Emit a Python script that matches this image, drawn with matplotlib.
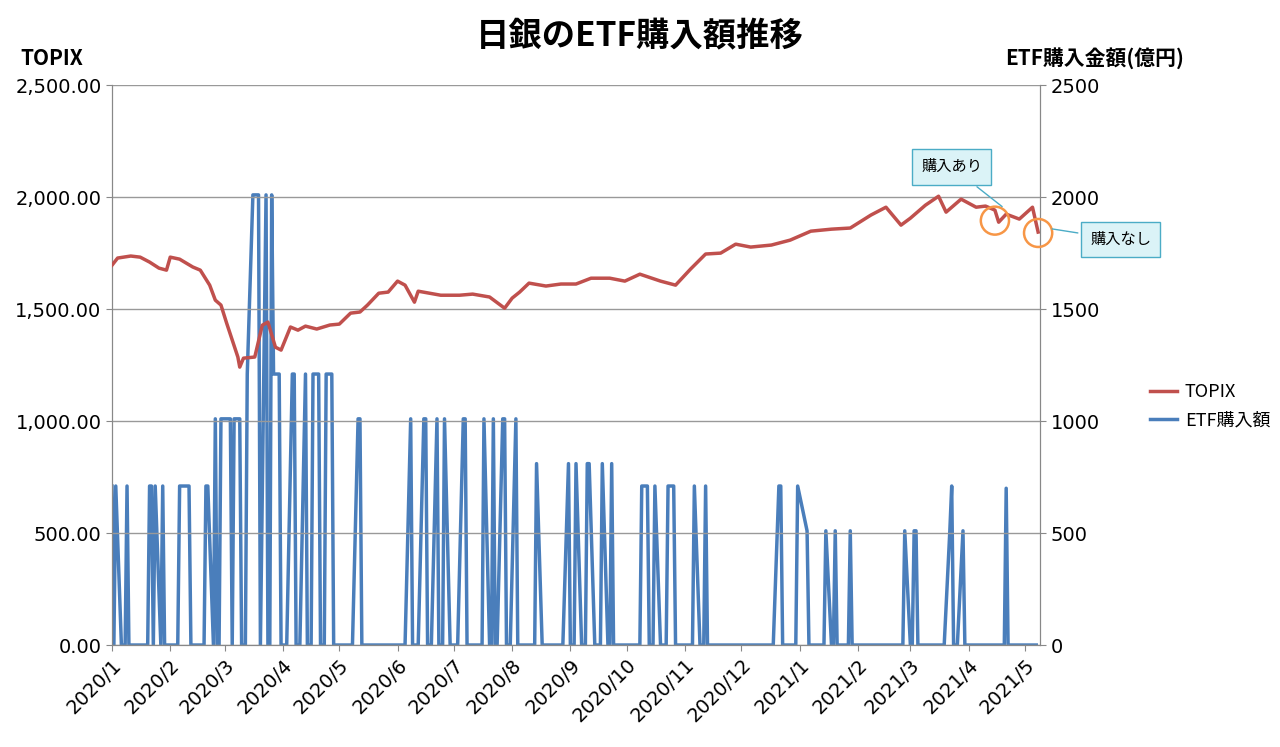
import numpy as np
import pandas as pd
import matplotlib
matplotlib.use("Agg")
import matplotlib.pyplot as plt
import matplotlib.dates as mdates
from matplotlib.patches import Ellipse
from matplotlib.lines import Line2D

plt.rcParams["font.family"] = ["Noto Sans CJK JP", "DejaVu Sans"]

# TOPIX
topix_dates = [
    "2020-01-01", "2020-01-04", "2020-01-11", "2020-01-16", "2020-01-21", "2020-01-26",
    "2020-01-30", "2020-02-01", "2020-02-06", "2020-02-13", "2020-02-17", "2020-02-22",
    "2020-02-25", "2020-02-28", "2020-03-02", "2020-03-05", "2020-03-08", "2020-03-09",
    "2020-03-11", "2020-03-17", "2020-03-21", "2020-03-24", "2020-03-28", "2020-03-31",
    "2020-04-05", "2020-04-09", "2020-04-13", "2020-04-19", "2020-04-26", "2020-05-01",
    "2020-05-07", "2020-05-12", "2020-05-16", "2020-05-22", "2020-05-27", "2020-06-01",
    "2020-06-05", "2020-06-10", "2020-06-12", "2020-06-24", "2020-07-04", "2020-07-11",
    "2020-07-20", "2020-07-28", "2020-08-01", "2020-08-05", "2020-08-10", "2020-08-19",
    "2020-08-27", "2020-09-04", "2020-09-12", "2020-09-22", "2020-09-30", "2020-10-08",
    "2020-10-19", "2020-10-27", "2020-11-04", "2020-11-12", "2020-11-20", "2020-11-28",
    "2020-12-06", "2020-12-17", "2020-12-27", "2021-01-07", "2021-01-18", "2021-01-28",
    "2021-02-08", "2021-02-16", "2021-02-24", "2021-03-01", "2021-03-09", "2021-03-16",
    "2021-03-20", "2021-03-28", "2021-04-05", "2021-04-10", "2021-04-15", "2021-04-17",
    "2021-04-21", "2021-04-28", "2021-05-05", "2021-05-08",
]
topix_values = [
    1696, 1728, 1737, 1732, 1710, 1683,
    1674, 1732, 1723, 1688, 1674, 1607,
    1540, 1518, 1438, 1362, 1286, 1241,
    1281, 1286, 1428, 1442, 1330, 1317,
    1420, 1406, 1424, 1411, 1429, 1433,
    1482, 1487, 1518, 1571, 1576, 1625,
    1607, 1531, 1580, 1562, 1562, 1567,
    1554, 1504, 1549, 1576, 1616, 1603,
    1612, 1612, 1638, 1638, 1625, 1656,
    1625, 1607, 1679, 1746, 1750, 1790,
    1777, 1786, 1808, 1848, 1857, 1862,
    1920, 1955, 1875, 1906, 1964, 2004,
    1933, 1991, 1955, 1960, 1942, 1888,
    1924, 1902, 1955, 1844,
]

# ETF purchases (億円) on purchase days; every other trading day is 0
etf_days = [
    "2020-01-01", "2020-01-03", "2020-01-09", "2020-01-21", "2020-01-22", "2020-01-24",
    "2020-01-28", "2020-02-06", "2020-02-07", "2020-02-10", "2020-02-11", "2020-02-20",
    "2020-02-21", "2020-02-25", "2020-02-28", "2020-03-02", "2020-03-03", "2020-03-04",
    "2020-03-06", "2020-03-09", "2020-03-13", "2020-03-16", "2020-03-17", "2020-03-18",
    "2020-03-19", "2020-03-23", "2020-03-26", "2020-03-27", "2020-03-30", "2020-04-06",
    "2020-04-07", "2020-04-13", "2020-04-17", "2020-04-20", "2020-04-24", "2020-04-27",
    "2020-05-11", "2020-05-12", "2020-06-08", "2020-06-15", "2020-06-16", "2020-06-22",
    "2020-06-26", "2020-07-06", "2020-07-07", "2020-07-17", "2020-07-22", "2020-07-27",
    "2020-07-28", "2020-08-03", "2020-08-14", "2020-08-31", "2020-09-04", "2020-09-10",
    "2020-09-11", "2020-09-18", "2020-09-23", "2020-10-09", "2020-10-12", "2020-10-16",
    "2020-10-23", "2020-10-26", "2020-11-06", "2020-11-12", "2020-12-21", "2020-12-22",
    "2020-12-31", "2021-01-05", "2021-01-15", "2021-01-20", "2021-01-28", "2021-02-26",
    "2021-03-03", "2021-03-04", "2021-03-22", "2021-03-23", "2021-03-29", "2021-04-21",
]
etf_amounts = [
    710, 710, 710, 710, 710, 710,
    710, 710, 710, 710, 710, 710,
    710, 1010, 1010, 1010, 1010, 1010,
    1010, 1010, 1210, 2010, 2010, 2010,
    2010, 2010, 2010, 1210, 1210, 1210,
    1210, 1210, 1210, 1210, 1210, 1210,
    1010, 1010, 1010, 1010, 1010, 1010,
    1010, 1010, 1010, 1010, 1010, 1010,
    1010, 1010, 810, 810, 810, 810,
    810, 810, 810, 710, 710, 710,
    710, 710, 710, 710, 710, 710,
    710, 510, 510, 510, 510, 510,
    510, 510, 510, 710, 510, 700,
]
no_trading = ["2021-01-01", "2021-01-04"]

month_labels = ["2020/1", "2020/2", "2020/3", "2020/4", "2020/5", "2020/6", "2020/7",
                "2020/8", "2020/9", "2020/10", "2020/11", "2020/12", "2021/1",
                "2021/2", "2021/3", "2021/4", "2021/5"]

t_dates = pd.to_datetime(topix_dates)
days = pd.bdate_range("2020-01-01", "2021-05-07")
days = days[~days.isin(pd.to_datetime(no_trading))]
etf = pd.Series(0.0, index=days)
etf.loc[pd.to_datetime(etf_days)] = etf_amounts

fig = plt.figure(figsize=(12.8, 7.47), dpi=100)
ax = fig.add_axes([0.0875, 0.1365, 0.725, 0.7495])
ax2 = ax.twinx()

blue = "#4a7ebb"
ax.plot(t_dates, topix_values, color="#c0504d", lw=2.5, zorder=3)
ax2.plot(etf.index, etf.values, color=blue, lw=2.5, zorder=2)
ax.set_zorder(2)
ax.patch.set_visible(False)

tickfont = dict(fontsize=14, family="DejaVu Sans")
ax.set_ylim(0, 2500)
ax2.set_ylim(0, 2500)
ax.set_yticks(np.arange(0, 2501, 500))
ax.set_yticklabels([f"{v:,.2f}" for v in np.arange(0, 2501, 500)], **tickfont)
ax2.set_yticks(np.arange(0, 2501, 500))
ax2.set_yticklabels([str(v) for v in np.arange(0, 2501, 500)], **tickfont)
ax.grid(axis="y", color="#999999", lw=1)

ticks = pd.date_range("2020-01-01", "2021-05-01", freq="MS")
ax.set_xlim(pd.Timestamp("2020-01-01"), pd.Timestamp("2021-05-09"))
ax.set_xticks(ticks)
ax.set_xticklabels(month_labels, rotation=45, ha="right", rotation_mode="anchor", **tickfont)
for a in (ax, ax2):
    a.tick_params(length=4, color="#888888")
    for s in a.spines.values():
        s.set_color("#888888")
    a.spines["top"].set_visible(False)

fig.text(0.5, 0.95, "日銀のETF購入額推移", ha="center", va="center", fontsize=24, fontweight="bold")
fig.text(0.016, 0.922, "TOPIX", fontsize=15, fontweight="bold", va="center")
fig.text(0.785, 0.922, "ETF購入金額(億円)", fontsize=15, fontweight="bold", va="center")

# legend
handles = [Line2D([], [], color="#c0504d", lw=2.5), Line2D([], [], color=blue, lw=2.5)]
fig.legend(handles, ["TOPIX", "ETF購入額"], loc="center left", bbox_to_anchor=(0.886, 0.456),
           frameon=False, fontsize=13, handlelength=1.5, handletextpad=0.4, labelspacing=0.6)

# circles and callouts
for d, v in [("2021-04-15", 1895), ("2021-05-08", 1840)]:
    ax.add_patch(Ellipse((mdates.date2num(pd.Timestamp(d)), v), 15, 125,
                         fill=False, ec="#f79646", lw=1.8, zorder=5, clip_on=False))
box = dict(boxstyle="square,pad=0.6", fc="#dbf3f7", ec="#4bacc6", lw=1)
ax.annotate("購入あり", xy=(pd.Timestamp("2021-04-20"), 1950),
            xytext=(pd.Timestamp("2021-03-23"), 2135), fontsize=11, ha="center", va="center",
            bbox=box, arrowprops=dict(arrowstyle="-", color="#4bacc6", lw=1), zorder=6)
ax.annotate("購入なし", xy=(pd.Timestamp("2021-05-14"), 1860),
            xytext=(pd.Timestamp("2021-06-21"), 1810), fontsize=11, ha="center", va="center",
            bbox=box, arrowprops=dict(arrowstyle="-", color="#4bacc6", lw=1),
            annotation_clip=False, zorder=6)

fig.savefig("out.png", dpi=100)
